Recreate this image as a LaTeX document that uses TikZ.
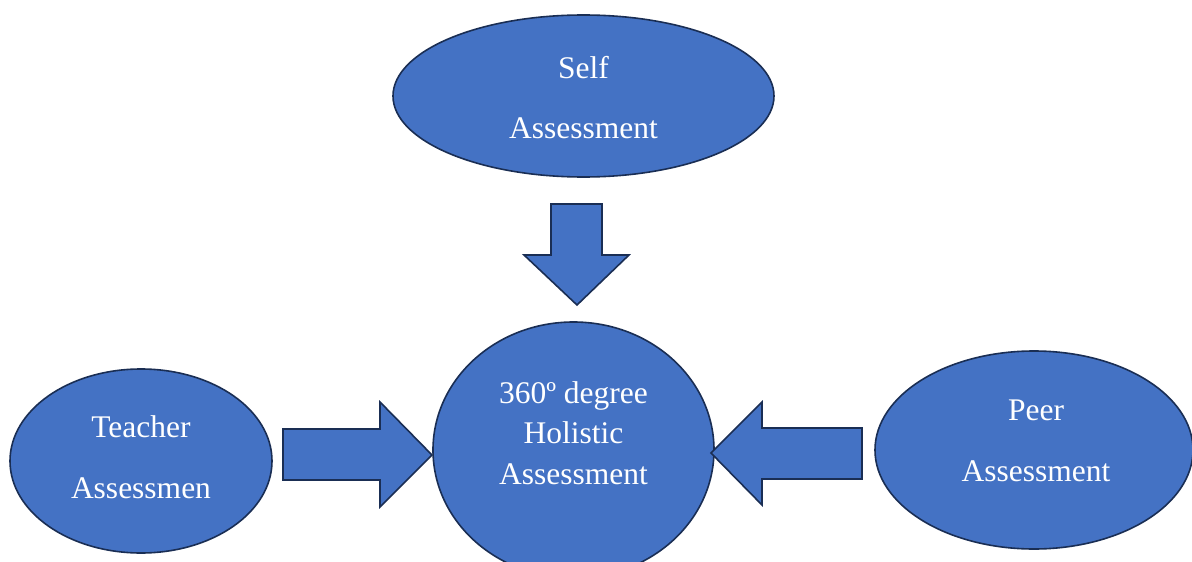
\documentclass[tikz,border=0pt]{standalone}
\usepackage{fontspec}
\setmainfont{Liberation Serif}
\usetikzlibrary{shapes.geometric}
\definecolor{fillblue}{RGB}{68,114,196}
\definecolor{edgeblue}{RGB}{26,46,84}
\tikzset{
  bubble/.style={ellipse, draw=edgeblue, fill=fillblue, line width=1.6pt, inner sep=0pt},
  blockarrow/.style={draw=edgeblue, fill=fillblue, line width=1.6pt, line join=miter},
  txt/.style={text=white, font=\fontsize{31.5}{36}\selectfont, anchor=base, inner sep=0pt}
}
\begin{document}
\begin{tikzpicture}[x=1pt,y=-1pt]
\useasboundingbox (0,0) rectangle (1192,562);
\clip (0,0) rectangle (1192,562);
\fill[white] (0,0) rectangle (1192,562);
% ellipses
\node[bubble, minimum width=381pt, minimum height=162pt] (self) at (583.5,96) {};
\node[bubble, minimum width=281pt, minimum height=256pt] (hol) at (573.5,450) {};
\node[bubble, minimum width=262pt, minimum height=184pt] (teach) at (141,461) {};
\node[bubble, minimum width=318pt, minimum height=198pt] (peer) at (1034,450) {};
% texts
\node[txt] (self1) at (583.5,78) {Self};
\node[txt] (self2) at (583.5,138) {Assessment};
\node[txt] (hol1) at (573.5,403) {360º degree};
\node[txt] (hol2) at (573.5,443) {Holistic};
\node[txt] (hol3) at (573.5,484) {Assessment};
\node[txt] (teach1) at (141,437) {Teacher};
\node[txt] (teach2) at (141,498) {Assessmen};
\node[txt] (peer1) at (1036,420) {Peer};
\node[txt] (peer2) at (1036,481) {Assessment};
% block arrows
\draw[blockarrow] (551,204) -- (602,204) -- (602,255) -- (629,255) -- (577,305) -- (524,255) -- (551,255) -- cycle;
\draw[blockarrow] (283,429) -- (380,429) -- (380,402) -- (432,455) -- (380,507) -- (380,480) -- (283,480) -- cycle;
\draw[blockarrow] (862,428) -- (762,428) -- (762,402) -- (711,453) -- (762,505) -- (762,479) -- (862,479) -- cycle;
\end{tikzpicture}
\end{document}
